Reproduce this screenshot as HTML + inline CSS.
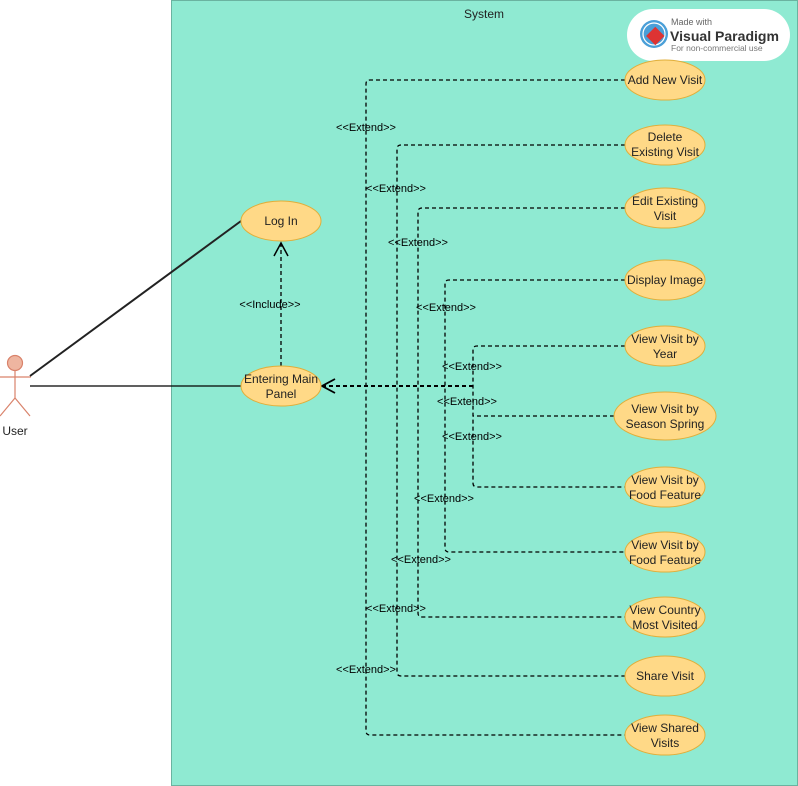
<!DOCTYPE html>
<html><head><meta charset="utf-8"><style>
html,body{margin:0;padding:0;background:#fff;}
svg{display:block;font-family:"Liberation Sans",Arial,sans-serif;}
</style></head><body>
<svg width="798" height="786" viewBox="0 0 798 786" xmlns="http://www.w3.org/2000/svg">
<rect x="171.5" y="0.5" width="626" height="785" fill="#8FEAD2" stroke="#6ab3a0"/>
<text x="484" y="18" font-size="12" text-anchor="middle" fill="#222">System</text>

<!-- logo -->
<rect x="627" y="9" width="163" height="52" rx="26" fill="#fff"/>
<circle cx="654" cy="34" r="14" fill="#4a9fd8"/>
<circle cx="654" cy="34" r="11" fill="none" stroke="#fff" stroke-width="1.2"/>
<rect x="649" y="30" width="13" height="13" fill="#d33" transform="rotate(45 656 36)"/>
<text x="671" y="25" font-size="9" fill="#666">Made with</text>
<text x="670" y="41" font-size="14" font-weight="bold" fill="#333" textLength="109" lengthAdjust="spacingAndGlyphs">Visual Paradigm</text>
<text x="671" y="51" font-size="8.5" fill="#777">For non-commercial use</text>

<!-- actor -->
<g stroke="#d9826a" stroke-width="1.2" fill="none">
<circle cx="15" cy="363" r="7.5" fill="#eeb5a0"/>
<line x1="15" y1="371" x2="15" y2="398"/>
<line x1="0" y1="377" x2="31" y2="377"/>
<line x1="15" y1="398" x2="0" y2="416"/>
<line x1="15" y1="398" x2="30" y2="416"/>
</g>
<text x="15" y="435" font-size="12" text-anchor="middle" fill="#222">User</text>
<line x1="30" y1="376" x2="241" y2="221" stroke="#222" stroke-width="2"/>
<line x1="30" y1="386" x2="241" y2="386" stroke="#000" stroke-width="1.3"/>

<!-- include -->
<line x1="281" y1="366" x2="281" y2="244" stroke="#000" stroke-dasharray="4,3" stroke-width="1.3"/>
<polyline points="274,256 281,243 288,256" fill="none" stroke="#000" stroke-width="1.5"/>
<text x="270" y="308" font-size="11" text-anchor="middle">&lt;&lt;Include&gt;&gt;</text>

<!-- extend paths -->
<g fill="none" stroke="#000" stroke-width="1.3" stroke-dasharray="4,3">
<path d="M625 80 H370 Q366 80 366 84 V731 Q366 735 370 735 H625"/>
<path d="M625 145 H401 Q397 145 397 149 V672 Q397 676 401 676 H625"/>
<path d="M625 208 H422 Q418 208 418 212 V613 Q418 617 422 617 H625"/>
<path d="M625 280 H449 Q445 280 445 284 V548 Q445 552 449 552 H625"/>
<path d="M625 346 H477 Q473 346 473 350 V483 Q473 487 477 487 H625"/>
<path d="M614 416 H473"/>
<path d="M473 386 H322" stroke-width="2"/>
</g>
<polyline points="335,379 322,386 335,393" fill="none" stroke="#000" stroke-width="1.8"/>

<g font-size="11" text-anchor="middle" fill="#000">
<text x="366" y="131">&lt;&lt;Extend&gt;&gt;</text>
<text x="396" y="192">&lt;&lt;Extend&gt;&gt;</text>
<text x="418" y="246">&lt;&lt;Extend&gt;&gt;</text>
<text x="446" y="311">&lt;&lt;Extend&gt;&gt;</text>
<text x="472" y="370">&lt;&lt;Extend&gt;&gt;</text>
<text x="467" y="405">&lt;&lt;Extend&gt;&gt;</text>
<text x="472" y="440">&lt;&lt;Extend&gt;&gt;</text>
<text x="444" y="502">&lt;&lt;Extend&gt;&gt;</text>
<text x="421" y="563">&lt;&lt;Extend&gt;&gt;</text>
<text x="396" y="612">&lt;&lt;Extend&gt;&gt;</text>
<text x="366" y="673">&lt;&lt;Extend&gt;&gt;</text>
</g>

<!-- ellipses -->
<g fill="#FFD987" stroke="#E0AE3A" stroke-width="1">
<ellipse cx="281" cy="221" rx="40" ry="20"/>
<ellipse cx="281" cy="386" rx="40" ry="20"/>
<ellipse cx="665" cy="80" rx="40" ry="20"/>
<ellipse cx="665" cy="145" rx="40" ry="20"/>
<ellipse cx="665" cy="208" rx="40" ry="20"/>
<ellipse cx="665" cy="280" rx="40" ry="20"/>
<ellipse cx="665" cy="346" rx="40" ry="20"/>
<ellipse cx="665" cy="416" rx="51" ry="24"/>
<ellipse cx="665" cy="487" rx="40" ry="20"/>
<ellipse cx="665" cy="552" rx="40" ry="20"/>
<ellipse cx="665" cy="617" rx="40" ry="20"/>
<ellipse cx="665" cy="676" rx="40" ry="20"/>
<ellipse cx="665" cy="735" rx="40" ry="20"/>
</g>
<g font-size="12" text-anchor="middle" fill="#222">
<text x="281" y="225">Log In</text>
<text x="281" y="383">Entering Main</text><text x="281" y="398">Panel</text>
<text x="665" y="84">Add New Visit</text>
<text x="665" y="141">Delete</text><text x="665" y="156">Existing Visit</text>
<text x="665" y="205">Edit Existing</text><text x="665" y="220">Visit</text>
<text x="665" y="284">Display Image</text>
<text x="665" y="343">View Visit by</text><text x="665" y="358">Year</text>
<text x="665" y="413">View Visit by</text><text x="665" y="428">Season Spring</text>
<text x="665" y="484">View Visit by</text><text x="665" y="499">Food Feature</text>
<text x="665" y="549">View Visit by</text><text x="665" y="564">Food Feature</text>
<text x="665" y="614">View Country</text><text x="665" y="629">Most Visited</text>
<text x="665" y="680">Share Visit</text>
<text x="665" y="732">View Shared</text><text x="665" y="747">Visits</text>
</g>
</svg>
</body></html>
